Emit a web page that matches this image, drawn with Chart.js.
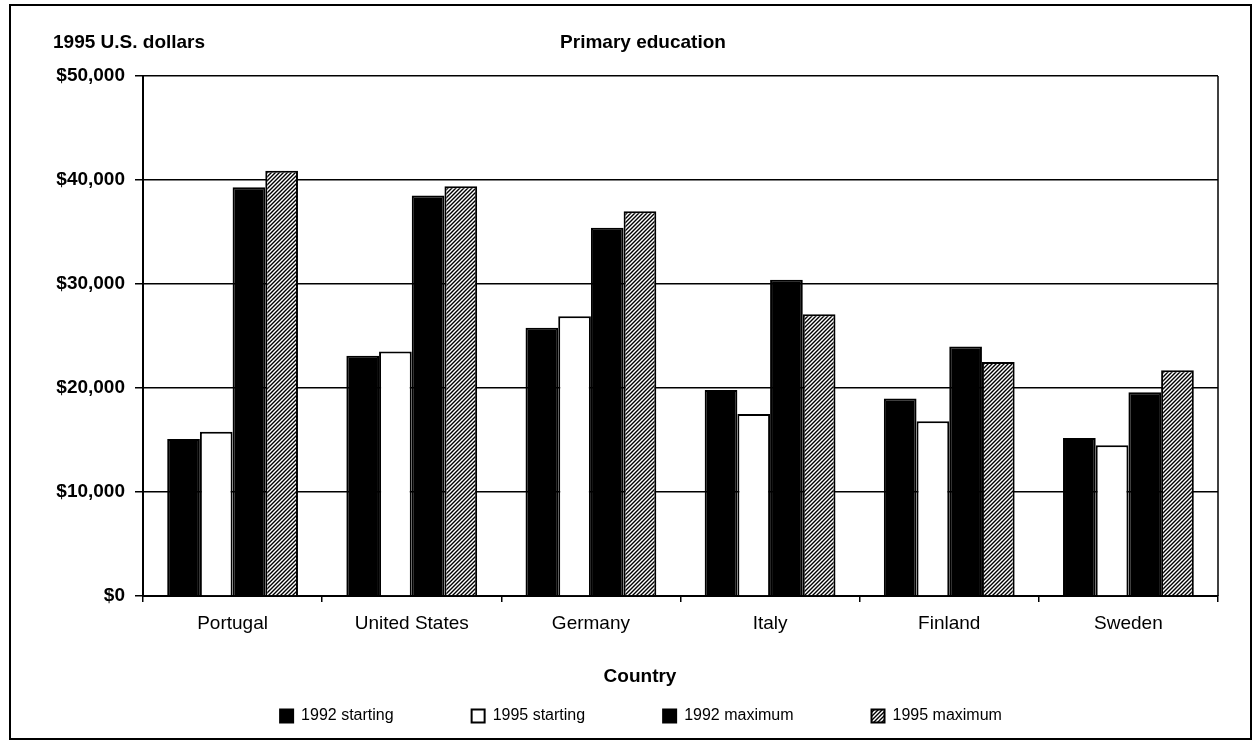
<!DOCTYPE html>
<html>
<head>
<meta charset="utf-8">
<title>Primary education</title>
<script src="https://cdn.jsdelivr.net/npm/chart.js@4"></script>
<style>
  html, body { margin: 0; padding: 0; background: #fff; }
  canvas { display: block; }
</style>
</head>
<body>
<canvas id="salaryChart" width="1254" height="745"></canvas>
<script>
/* Teacher salaries, primary education */
const countries = ['Portugal', 'United States', 'Germany', 'Italy', 'Finland', 'Sweden'];
const start1992 = [15100, 23100, 25800, 19800, 19000, 15200];
const start1995 = [15800, 23500, 26900, 17500, 16800, 14500];
const max1992 = [39300, 38500, 35400, 30400, 24000, 19600];
const max1995 = [40900, 39400, 37000, 27100, 22500, 21700];
const yTicks = [0, 10000, 20000, 30000, 40000, 50000];

const FONT = '"Liberation Sans", Arial, sans-serif';

// diagonal hatch for the 1995 maximum bars
function hatch() {
  const s = 4;
  const c = document.createElement('canvas');
  c.width = s; c.height = s;
  const g = c.getContext('2d');
  g.fillStyle = '#fff';
  g.fillRect(0, 0, s, s);
  g.strokeStyle = '#000';
  g.lineWidth = 1.4;
  g.beginPath();
  g.moveTo(0, s); g.lineTo(s, 0);
  g.moveTo(-1, 1); g.lineTo(1, -1);
  g.moveTo(s - 1, s + 1); g.lineTo(s + 1, s - 1);
  g.stroke();
  return g.createPattern(c, 'repeat');
}

const textBits = {
  id: 'textBits',
  beforeDraw(chart) {
    // nudge the legend row to where it sits in the original
    if (chart.legend) {
      chart.legend.left = 64;
      chart.legend.top = 630;
    }
  },
  afterDraw(chart) {
    const { ctx, chartArea } = chart;
    ctx.save();
    // plot right edge
    ctx.strokeStyle = '#000';
    ctx.lineWidth = 1.5;
    ctx.beginPath();
    ctx.moveTo(chartArea.right, chartArea.top);
    ctx.lineTo(chartArea.right, chartArea.bottom);
    ctx.stroke();
    // outer frame
    ctx.lineWidth = 2;
    ctx.strokeRect(10, 5, 1241, 734);
    ctx.fillStyle = '#000';
    ctx.textBaseline = 'middle';
    ctx.font = 'bold 19px ' + FONT;
    ctx.textAlign = 'left';
    ctx.fillText('1995 U.S. dollars', 53, 43);
    ctx.textAlign = 'center';
    ctx.fillText('Primary education', 643, 43);
    ctx.fillText('Country', 640, 677);
    ctx.restore();
  }
};

new Chart(document.getElementById('salaryChart'), {
  type: 'bar',
  data: {
    labels: countries,
    datasets: [
      { label: '1992 starting', data: start1992, backgroundColor: '#000', borderColor: '#000', borderWidth: 2 },
      { label: '1995 starting', data: start1995, backgroundColor: '#fff', borderColor: '#000', borderWidth: 2 },
      { label: '1992 maximum', data: max1992, backgroundColor: '#000', borderColor: '#000', borderWidth: 2 },
      { label: '1995 maximum', data: max1995, backgroundColor: hatch(), borderColor: '#000', borderWidth: 2 }
    ]
  },
  options: {
    responsive: false,
    animation: false,
    layout: { padding: { left: 20, right: 36, top: 76, bottom: 3 } },
    datasets: { bar: { categoryPercentage: 0.73, barPercentage: 1 } },
    plugins: {
      title: { display: false },
      tooltip: { enabled: false },
      legend: {
        position: 'bottom',
        labels: {
          color: '#000',
          font: { family: FONT, size: 16 },
          boxWidth: 13,
          boxHeight: 13,
          padding: 78
        }
      }
    },
    scales: {
      x: {
        afterFit(scale) { scale.height = 42; },
        grid: { display: true, drawOnChartArea: false, drawTicks: true, tickLength: 6, color: '#000', lineWidth: 1.5, offset: true },
        border: { color: '#000', width: 2 },
        ticks: { color: '#000', padding: 10, font: { family: FONT, size: 19 } }
      },
      y: {
        min: 0,
        max: 50000,
        afterFit(scale) { scale.width = 123; },
        afterBuildTicks(scale) { scale.ticks = yTicks.map(v => ({ value: v })); },
        grid: { color: '#000', lineWidth: 1.5, tickLength: 8 },
        border: { color: '#000', width: 2 },
        ticks: {
          color: '#000',
          padding: 10,
          font: { family: FONT, size: 19, weight: 'bold' },
          callback: v => '$' + v.toLocaleString('en-US')
        }
      }
    }
  },
  plugins: [textBits]
});
</script>
</body>
</html>
